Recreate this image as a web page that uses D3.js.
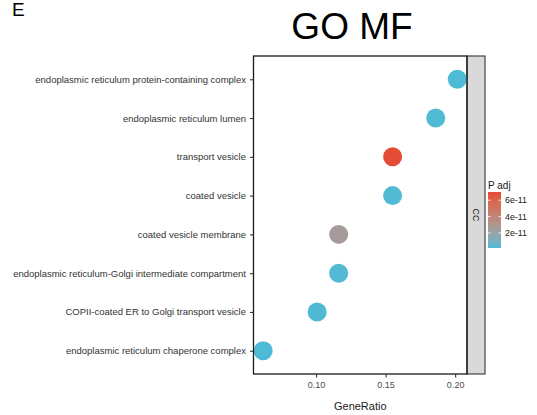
<!DOCTYPE html>
<html>
<head>
<meta charset="utf-8">
<script src="https://cdn.jsdelivr.net/npm/d3@7"></script>
<style>
  html, body { margin: 0; padding: 0; background: #fff; }
  svg { display: block; font-family: "Liberation Sans", Arial, sans-serif; }
</style>
</head>
<body>
<svg id="chart" width="537" height="415"></svg>
<script>
// GO terms, top to bottom
const terms = [
  "endoplasmic reticulum protein-containing complex",
  "endoplasmic reticulum lumen",
  "transport vesicle",
  "coated vesicle",
  "coated vesicle membrane",
  "endoplasmic reticulum-Golgi intermediate compartment",
  "COPII-coated ER to Golgi transport vesicle",
  "endoplasmic reticulum chaperone complex"
];
const geneRatio = [26/129, 24/129, 20/129, 20/129, 15/129, 15/129, 13/129, 8/129];
const pAdj = [2.0e-12, 2.4e-12, 7.0e-11, 2.6e-12, 2.6e-11, 2.8e-12, 2.2e-12, 1.8e-12];
const xTicks = [0.10, 0.15, 0.20];
const legendTicks = [2e-11, 4e-11, 6e-11];
const facetLabel = "CC";

const svg = d3.select("#chart");
const panel = { left: 253.5, right: 467, top: 56, bottom: 374 };
const strip = { left: 467, right: 485 };

// x scale with 5% padding like ggplot
const [xmin, xmax] = d3.extent(geneRatio);
const pad = (xmax - xmin) * 0.05;
const x = d3.scaleLinear().domain([xmin - pad, xmax + pad]).range([panel.left, panel.right]);

// discrete y with 0.6 expansion
const n = terms.length;
const yLin = d3.scaleLinear().domain([0.4, n + 0.6]).range([panel.top, panel.bottom]);
const y = t => yLin(terms.indexOf(t) + 1);

const pExtent = d3.extent(pAdj);
const color = d3.scaleLinear().domain(pExtent).range(["#4DBBD5", "#E64B35"]).interpolate(d3.interpolateLab);

// labels
svg.append("text").attr("x", 12).attr("y", 16).attr("font-size", 19).attr("fill", "#000").text("E");
svg.append("text").attr("x", 352).attr("y", 39).attr("font-size", 37).attr("text-anchor", "middle").attr("fill", "#000").text("GO MF");

// panel
svg.append("rect").attr("x", panel.left).attr("y", panel.top)
  .attr("width", panel.right - panel.left).attr("height", panel.bottom - panel.top)
  .attr("fill", "#fff");

// strip
svg.append("rect").attr("x", strip.left).attr("y", panel.top)
  .attr("width", strip.right - strip.left).attr("height", panel.bottom - panel.top)
  .attr("fill", "#D9D9D9").attr("stroke", "#333").attr("stroke-width", 1.1);
svg.append("text")
  .attr("transform", `translate(${(strip.left + strip.right) / 2},${(panel.top + panel.bottom) / 2}) rotate(90)`)
  .attr("text-anchor", "middle").attr("dy", "0.35em").attr("font-size", 9).attr("fill", "#1a1a1a")
  .text(facetLabel);

// points
svg.append("g").selectAll("circle").data(terms).join("circle")
  .attr("cx", (d, i) => x(geneRatio[i]))
  .attr("cy", d => y(d))
  .attr("r", 9.5)
  .attr("fill", (d, i) => color(pAdj[i]));

// panel border
svg.append("rect").attr("x", panel.left).attr("y", panel.top)
  .attr("width", panel.right - panel.left).attr("height", panel.bottom - panel.top)
  .attr("fill", "none").attr("stroke", "#1a1a1a").attr("stroke-width", 1.3);

// axes
const xAxis = d3.axisBottom(x).tickValues(xTicks).tickFormat(d3.format(".2f")).tickSize(3.5).tickPadding(4);
const gx = svg.append("g").attr("transform", `translate(0,${panel.bottom})`).call(xAxis);
gx.select(".domain").remove();
gx.selectAll("line").attr("stroke", "#333").attr("stroke-width", 1.1);
gx.selectAll("text").attr("font-size", 9).attr("fill", "#4D4D4D").attr("font-family", "Liberation Sans, Arial, sans-serif");

const yAxis = d3.axisLeft(yLin).tickValues(d3.range(1, n + 1)).tickFormat(i => terms[i - 1]).tickSize(3.5).tickPadding(4);
const gy = svg.append("g").attr("transform", `translate(${panel.left},0)`).call(yAxis);
gy.select(".domain").remove();
gy.selectAll("line").attr("stroke", "#333").attr("stroke-width", 1.1);
gy.selectAll("text").attr("font-size", 9.5).attr("fill", "#333").attr("font-family", "Liberation Sans, Arial, sans-serif");

svg.append("text").attr("x", (panel.left + panel.right) / 2).attr("y", 410)
  .attr("text-anchor", "middle").attr("font-size", 11).attr("fill", "#1a1a1a").text("GeneRatio");

// colour legend
const lg = { x: 488, top: 192, bottom: 248, w: 13 };
svg.append("text").attr("x", lg.x).attr("y", 189).attr("font-size", 10).attr("fill", "#1a1a1a").text("P adj");
const defs = svg.append("defs");
const grad = defs.append("linearGradient").attr("id", "pgrad").attr("x1", 0).attr("y1", 1).attr("x2", 0).attr("y2", 0);
d3.range(0, 1.0001, 0.1).forEach(t => {
  grad.append("stop").attr("offset", t).attr("stop-color", color(pExtent[0] + t * (pExtent[1] - pExtent[0])));
});
svg.append("rect").attr("x", lg.x).attr("y", lg.top).attr("width", lg.w).attr("height", lg.bottom - lg.top)
  .attr("fill", "url(#pgrad)");
const ly = d3.scaleLinear().domain(pExtent).range([lg.bottom, lg.top]);
const lgT = svg.append("g");
legendTicks.forEach(v => {
  const yy = ly(v);
  lgT.append("line").attr("x1", lg.x).attr("x2", lg.x + 2.6).attr("y1", yy).attr("y2", yy).attr("stroke", "#fff").attr("stroke-width", 0.8);
  lgT.append("line").attr("x1", lg.x + lg.w - 2.6).attr("x2", lg.x + lg.w).attr("y1", yy).attr("y2", yy).attr("stroke", "#fff").attr("stroke-width", 0.8);
  lgT.append("text").attr("x", lg.x + lg.w + 4).attr("y", yy).attr("dy", "0.35em").attr("font-size", 8.8).attr("fill", "#1a1a1a")
    .text(d3.format(".0e")(v));
});
</script>
</body>
</html>
